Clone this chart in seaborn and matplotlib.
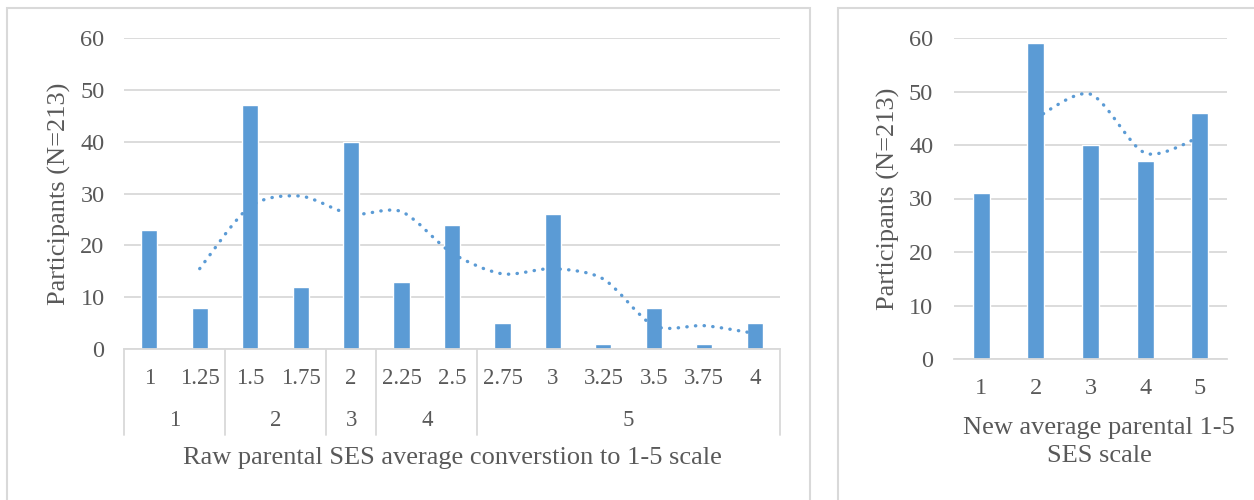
import numpy as np
import pandas as pd
import matplotlib
matplotlib.use("Agg")
import matplotlib.pyplot as plt
import seaborn as sns
from matplotlib.path import Path
from matplotlib.patches import PathPatch, Rectangle
import matplotlib.transforms as mtransforms

# ---- data ----
raw_labels = ["1", "1.25", "1.5", "1.75", "2", "2.25", "2.5", "2.75", "3", "3.25", "3.5", "3.75", "4"]
raw_counts = [23, 8, 47, 12, 40, 13, 24, 5, 26, 1, 8, 1, 5]
group_labels = ["1", "2", "3", "4", "5"]
group_sizes = [2, 2, 1, 2, 6]
new_labels = ["1", "2", "3", "4", "5"]
new_counts = [31, 59, 40, 37, 46]
yticks = [0, 10, 20, 30, 40, 50, 60]

BAR = "#5b9bd5"
GRID = "#d9d9d9"
TXT = "#595959"

sns.set_theme(style="white")
plt.rcParams["font.family"] = ["Liberation Serif", "DejaVu Serif"]
plt.rcParams["text.color"] = TXT
plt.rcParams["axes.labelcolor"] = TXT
plt.rcParams["xtick.color"] = TXT
plt.rcParams["ytick.color"] = TXT

FS_TICK = 17.5
FS_CAT = 16.5
FS_LAB = 19
W, H = 1254, 500
fig = plt.figure(figsize=(W / 100, H / 100), dpi=100)


def fx(px):
    return px / W


def fy(py):
    return 1 - py / H


# panel borders
fig.patches.append(Rectangle((fx(7), fy(520)), fx(810 - 7), (520 - 8) / H, transform=fig.transFigure,
                             fill=False, edgecolor=GRID, lw=1.5))
fig.patches.append(Rectangle((fx(838), fy(520)), fx(1270 - 838), (520 - 8) / H, transform=fig.transFigure,
                             fill=False, edgecolor=GRID, lw=1.5))


def smooth_path(xs, ys, k=7.0):
    pts = np.column_stack([xs, ys])
    n = len(pts)
    verts = [pts[0]]
    codes = [Path.MOVETO]
    for i in range(n - 1):
        p0 = pts[i - 1] if i > 0 else pts[i]
        p1 = pts[i]
        p2 = pts[i + 1]
        p3 = pts[i + 2] if i + 2 < n else pts[i + 1]
        c1 = p1 + (p2 - p0) / k
        c2 = p2 - (p3 - p1) / k
        verts += [c1, c2, p2]
        codes += [Path.CURVE4] * 3
    return Path(verts, codes)


def style_axes(ax, ypad, xfs):
    ax.set_ylim(0, 60)
    ax.set_yticks(yticks)
    ax.yaxis.grid(True, color=GRID, lw=1.3)
    ax.set_axisbelow(True)
    for s in ["top", "right", "left"]:
        ax.spines[s].set_visible(False)
    ax.spines["bottom"].set_color(GRID)
    ax.spines["bottom"].set_linewidth(1.3)
    ax.tick_params(axis="both", length=0)
    ax.tick_params(axis="y", pad=ypad, labelsize=FS_TICK)
    ax.tick_params(axis="x", pad=14, labelsize=xfs)


def add_ma(ax, counts):
    ma = pd.Series(counts, dtype=float).rolling(2).mean()
    idx = np.arange(len(counts))[~ma.isna().values]
    path = smooth_path(idx.astype(float), ma.dropna().values)
    ax.add_patch(PathPatch(path, fill=False, edgecolor=BAR, lw=2.4,
                           linestyle=(0, (0.1, 2.5)), capstyle="round", zorder=3))


# ---- left panel ----
ax1 = fig.add_axes([fx(124), fy(349), fx(780 - 124), (349 - 38) / H])
df1 = pd.DataFrame({"label": raw_labels, "count": raw_counts})
sns.barplot(data=df1, x="label", y="count", order=raw_labels, color=BAR, width=0.32,
            saturation=1, ax=ax1, zorder=2)
ax1.set_xlim(-0.5, len(raw_labels) - 0.5)
style_axes(ax1, 14, FS_CAT)
add_ma(ax1, raw_counts)
ax1.set_ylabel("Participants (N=213)", fontsize=FS_LAB)
ax1.yaxis.set_label_coords((71 - 124) / 656, 0.5)
ax1.set_xlabel("")

# group row
trans = mtransforms.blended_transform_factory(ax1.transData, ax1.transAxes)
bounds = np.concatenate([[0], np.cumsum(group_sizes)]) - 0.5
line_bottom = -(435 - 349) / 311
for b in bounds:
    ax1.plot([b, b], [0, line_bottom], transform=trans, color=GRID, lw=1.3, clip_on=False)
for lab, a, b in zip(group_labels, bounds[:-1], bounds[1:]):
    ax1.text((a + b) / 2, -(421 - 349) / 311, lab, transform=trans, ha="center", va="center",
             fontsize=FS_CAT, color=TXT)
ax1.text(0.5, -(458 - 349) / 311, "Raw parental SES average converstion to 1-5 scale",
         transform=ax1.transAxes, ha="center", va="center", fontsize=FS_LAB, color=TXT)

# ---- right panel ----
ax2 = fig.add_axes([fx(954), fy(359), fx(1227 - 954), (359 - 38) / H])
df2 = pd.DataFrame({"label": new_labels, "count": new_counts})
sns.barplot(data=df2, x="label", y="count", order=new_labels, color=BAR, width=0.31,
            saturation=1, ax=ax2, zorder=2)
ax2.set_xlim(-0.5, len(new_labels) - 0.5)
style_axes(ax2, 15, FS_TICK)
add_ma(ax2, new_counts)
ax2.set_ylabel("Participants (N=213)", fontsize=FS_LAB)
ax2.yaxis.set_label_coords((900 - 954) / 273, 0.5)
ax2.set_xlabel("")
ax2.text((1099 - 954) / 273, -(442 - 359) / 321, "New average parental 1-5\nSES scale",
         transform=ax2.transAxes, ha="center", va="center", fontsize=FS_LAB, color=TXT,
         linespacing=1.35)

fig.savefig("out.png", dpi=100)
